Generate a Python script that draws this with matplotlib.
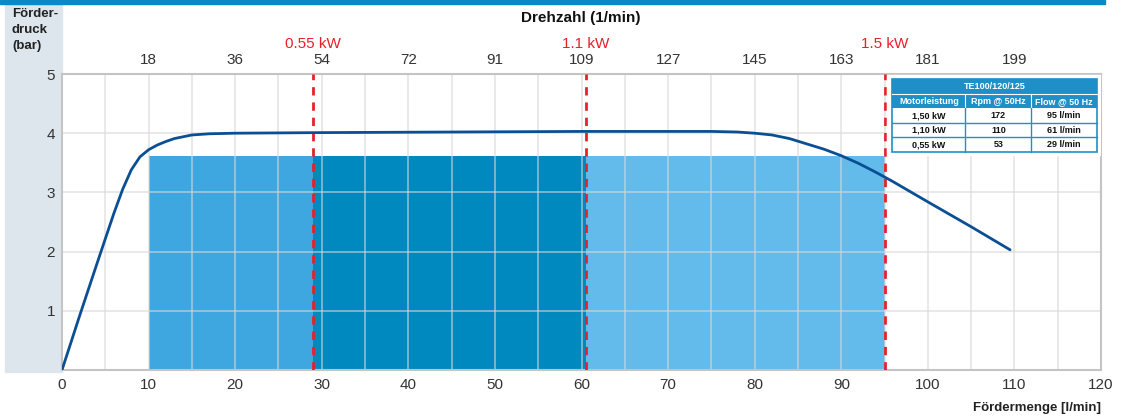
import matplotlib.pyplot as plt
from matplotlib.patches import Rectangle

# ---- data ----
flow = [0, 2, 4, 6, 7, 8, 9, 10, 11, 12, 13, 15, 17, 20, 30, 45, 60, 70, 75,
        78, 80, 82, 84, 86, 88, 90, 92, 94, 96, 100, 105, 109.5]
pressure = [0, 0.9, 1.78, 2.65, 3.05, 3.38, 3.6, 3.72, 3.8, 3.86, 3.91, 3.97,
            3.99, 4.0, 4.01, 4.02, 4.03, 4.03, 4.03, 4.02, 4.0, 3.97, 3.91,
            3.82, 3.73, 3.62, 3.49, 3.34, 3.18, 2.84, 2.42, 2.03]

band_edges = [10, 29, 60.5, 95]
band_height = 3.62
band_colors = ['#3ea7e0', '#0089bf', '#62bbea']

power_flow = [29, 60.5, 95]
power_labels = ['0.55 kW', '1.1 kW', '1.5 kW']

top_pos = [10, 20, 30, 40, 50, 60, 70, 80, 90, 100, 110]
top_labels = ['18', '36', '54', '72', '91', '109', '127', '145', '163', '181', '199']

table_title = 'TE100/120/125'
table_head = ['Motorleistung', 'Rpm @ 50Hz', 'Flow @ 50 Hz']
table_rows = [['1,50 kW', '172', '95 l/min'],
              ['1,10 kW', '110', '61 l/min'],
              ['0,55 kW', '53', '29 l/min']]

narrow = ['Liberation Sans Narrow', 'Liberation Sans', 'DejaVu Sans']
plt.rcParams['font.family'] = ['Liberation Sans', 'DejaVu Sans']

W, H = 1126, 417
fig = plt.figure(figsize=(W / 100, H / 100), dpi=100)

# background decorations (figure coords from pixels)
def px(x0, y0, x1, y1):
    return (x0 / W, 1 - y1 / H, (x1 - x0) / W, (y1 - y0) / H)

x0, y0, w, h = px(5, 5, 62, 372)
fig.patches.append(Rectangle((x0, y0), w, h, transform=fig.transFigure,
                             color='#dce6ec', zorder=-5))
x0, y0, w, h = px(0, 0, 1105, 4)
fig.patches.append(Rectangle((x0, y0), w, h, transform=fig.transFigure,
                             color='#0a8ac4', zorder=-5))

ax = fig.add_axes(px(62, 74, 1101, 370))
ax.set_zorder(2)
ax.set_xlim(0, 120)
ax.set_ylim(0, 5)

# bars
for i in range(3):
    ax.add_patch(Rectangle((band_edges[i], 0), band_edges[i + 1] - band_edges[i],
                           band_height, color=band_colors[i], zorder=1, lw=0))

# grid
for gx in range(5, 120, 5):
    ax.axvline(gx, color='#d8d8d8', lw=1.2, alpha=0.65, zorder=2)
for gy in range(1, 5):
    ax.axhline(gy, color='#d8d8d8', lw=1.2, alpha=0.65, zorder=2)

# power lines
for xv, lab in zip(power_flow, power_labels):
    ax.axvline(xv, color='#e8202a', lw=2, ls=(0, (3, 2.5)), zorder=3)
    ax.text(xv, 5.5, lab, color='#e8202a', fontsize=11, ha='center', va='center',
            transform=ax.transData, clip_on=False)

# curve
ax.plot(flow, pressure, color='#0a4f94', lw=2, zorder=4, solid_capstyle='round')

for s in ax.spines.values():
    s.set_color('#c4c4c4')
    s.set_linewidth(1.5)

ax.set_xticks(range(0, 121, 10))
ax.set_yticks([1, 2, 3, 4, 5])
ax.tick_params(length=0, labelsize=11, colors='#333333')
ax.tick_params(axis='x', pad=6)
ax.tick_params(axis='y', pad=5)
for t in ax.get_yticklabels():
    t.set_fontfamily(narrow)

top = ax.secondary_xaxis('top')
top.set_xticks(top_pos)
top.set_xticklabels(top_labels)
top.tick_params(length=0, labelsize=11, colors='#333333', pad=5)
top.spines['top'].set_visible(False)

fig.text(581 / W, 1 - 18 / H, 'Drehzahl (1/min)', ha='center', va='center',
         fontsize=11, fontweight='bold', color='#111111')
fig.text(12 / W, 1 - 8 / H, 'Förder-\ndruck\n(bar)', ha='left', va='top',
         fontsize=9.5, fontweight='bold', color='#222222', family=narrow,
         linespacing=1.45)
fig.text(1101 / W, 1 - 408 / H, 'Fördermenge [l/min]', ha='right', va='center',
         fontsize=9.5, fontweight='bold', color='#222222', family=narrow)

# table
tx0, tx1 = 0.799, 0.996
ty_top, ty_bot = 0.982, 0.737
ax.add_patch(Rectangle((0.794, 0.725), 0.206, 0.27, transform=ax.transAxes,
                       color='white', zorder=5))
rows = 5
rh = (ty_top - ty_bot) / rows
colw = [0.0705, 0.0635, 0.063]
blue = '#1f8fc8'
ax.add_patch(Rectangle((tx0, ty_top - 2 * rh), tx1 - tx0, 2 * rh,
                       transform=ax.transAxes, color=blue, zorder=6, lw=0))
ax.text((tx0 + tx1) / 2, ty_top - rh / 2, table_title, transform=ax.transAxes,
        ha='center', va='center', color='white', fontsize=6.5, fontweight='bold',
        zorder=7)
ax.add_patch(Rectangle((tx0, ty_bot), tx1 - tx0, ty_top - ty_bot,
                       transform=ax.transAxes, fill=False, ec=blue, lw=1.2,
                       zorder=7))
ax.plot([tx0, tx1], [ty_top - rh, ty_top - rh], transform=ax.transAxes,
        color='white', lw=0.8, zorder=7)
for r in range(3, rows):
    yy = ty_top - r * rh
    ax.plot([tx0, tx1], [yy, yy], transform=ax.transAxes, color=blue,
            lw=1, zorder=7)
xs = [tx0]
for cw in colw:
    xs.append(xs[-1] + cw)
for c in (1, 2):
    ax.plot([xs[c], xs[c]], [ty_bot, ty_top - rh], transform=ax.transAxes,
            color='white', lw=0.8, zorder=7)
    ax.plot([xs[c], xs[c]], [ty_bot, ty_top - 2 * rh], transform=ax.transAxes,
            color=blue, lw=1, zorder=7)
for c in range(3):
    cx = (xs[c] + xs[c + 1]) / 2
    ax.text(cx, ty_top - 1.5 * rh, table_head[c], transform=ax.transAxes,
            ha='center', va='center', color='white', fontsize=6.5,
            fontweight='bold', zorder=8)
    for r in range(3):
        ax.text(cx, ty_top - (2.5 + r) * rh, table_rows[r][c],
                transform=ax.transAxes, ha='center', va='center',
                color='#111111', fontsize=6.5, fontweight='bold', zorder=8)

fig.savefig('out.png', dpi=100)
